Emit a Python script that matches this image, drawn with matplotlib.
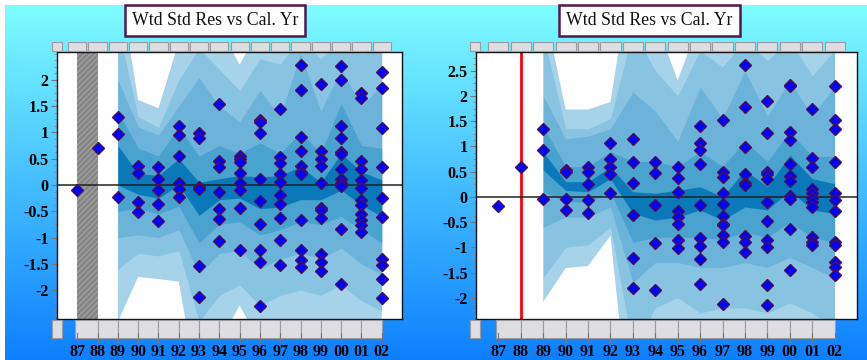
import numpy as np
import matplotlib
matplotlib.use('Agg')
import matplotlib.pyplot as plt
from matplotlib.patches import Rectangle

# ---------------- data ----------------
years = ['87', '88', '89', '90', '91', '92', '93', '94', '95', '96', '97', '98', '99', '00', '01', '02']

left_points = {
    '87': [-0.10],
    '88': [0.70],
    '89': [1.30, 0.97, -0.22],
    '90': [0.36, 0.22, -0.33, -0.52],
    '91': [0.34, 0.11, -0.10, -0.36, -0.68],
    '92': [1.12, 0.95, 0.55, 0.04, -0.08, -0.23],
    '93': [0.99, 0.90, -0.03, -0.07, -1.54, -2.13],
    '94': [1.54, 0.46, 0.34, -0.13, -0.46, -0.65, -1.07],
    '95': [0.55, 0.49, 0.44, 0.23, 0.04, -0.09, -0.43, -1.23],
    '96': [1.23, 1.19, 0.98, 0.11, -0.31, -0.74, -1.23, -1.47, -2.30],
    '97': [1.45, 0.53, 0.41, 0.21, 0.06, -0.20, -0.36, -0.62, -1.04, -1.52],
    '98': [2.29, 1.80, 0.92, 0.65, 0.37, 0.24, 0.20, -0.67, -1.23, -1.42, -1.56],
    '99': [1.92, 0.65, 0.49, 0.37, 0.03, -0.44, -0.48, -0.62, -1.31, -1.47, -1.64],
    '00': [2.27, 1.99, 1.12, 0.90, 0.63, 0.59, 0.30, 0.11, 0.03, -0.01, -0.84, -1.89],
    '01': [1.75, 1.66, 0.46, 0.30, 0.10, -0.06, -0.28, -0.39, -0.55, -0.67, -0.77, -0.90],
    '02': [2.15, 1.84, 1.09, 0.35, -0.25, -0.61, -1.41, -1.53, -1.79, -2.15],
}

right_points = {
    '87': [-0.18],
    '88': [0.59],
    '89': [1.34, 0.92, -0.04],
    '90': [0.53, 0.49, -0.05, -0.26],
    '91': [0.59, 0.49, 0.26, -0.07, -0.32],
    '92': [1.06, 0.75, 0.59, 0.46, 0.08],
    '93': [1.14, 0.70, 0.28, -0.36, -1.22, -1.80],
    '94': [0.70, 0.48, -0.17, -0.92, -1.84],
    '95': [0.59, 0.37, 0.10, -0.28, -0.40, -0.53, -0.86, -1.01],
    '96': [1.41, 1.07, 0.92, 0.66, -0.17, -0.81, -0.98, -1.23, -1.72],
    '97': [1.52, 0.50, 0.40, 0.08, -0.15, -0.38, -0.53, -0.56, -0.75, -0.89, -2.13],
    '98': [2.61, 1.78, 0.99, 0.46, 0.28, 0.23, -0.77, -0.89, -1.10],
    '99': [1.90, 1.27, 0.50, 0.45, 0.36, -0.10, -0.48, -0.85, -1.00, -1.74, -2.15],
    '00': [2.22, 2.19, 1.29, 1.12, 0.65, 0.41, 0.32, 0.02, -0.05, -0.63, -1.45],
    '01': [1.74, 0.77, 0.59, 0.15, 0.08, -0.03, -0.10, -0.20, -0.79, -0.89, -0.96],
    '02': [2.19, 1.53, 1.34, 0.69, 0.07, -0.07, -0.28, -0.89, -0.96, -1.29, -1.39, -1.55],
}

# band boundaries (outer -> inner), years 89..02
left_b1_hi = [4.0, 1.62, 1.46, 2.72, 3.5, 3.0, 2.29, 3.0, 2.9, 3.5, 3.0, 3.5, 3.0, 3.5]
left_b1_lo = [-2.6, -1.75, -1.79, -1.84, -4.0, -3.0, -2.29, -3.0, -3.0, -3.0, -3.0, -3.0, -3.0, -3.0]
left_b2_hi = [3.0, 1.3, 1.1, 2.0, 2.6, 2.2, 1.8, 2.4, 2.3, 2.8, 2.4, 2.8, 2.5, 2.6]
left_b2_lo = [-1.6, -1.3, -1.35, -1.25, -2.6, -2.1, -1.9, -2.3, -2.1, -2.0, -2.1, -1.9, -2.2, -2.4]
left_b3_hi = [2.0, 1.1, 0.95, 1.5, 2.04, 1.5, 1.2, 1.8, 1.3, 2.5, 1.4, 2.2, 1.5, 1.9]
left_b3_lo = [-1.0, -0.95, -1.0, -0.85, -1.7, -1.3, -1.25, -1.6, -1.4, -1.3, -1.4, -1.2, -1.5, -1.7]
left_b4_hi = [1.4, 0.7, 0.55, 1.1, 0.55, 0.75, 0.6, 0.8, 0.6, 1.0, 0.6, 1.55, 0.75, 0.7]
left_b4_lo = [-0.5, -0.45, -0.55, -0.4, -1.1, -0.75, -0.7, -0.95, -0.85, -0.7, -0.75, -0.6, -0.85, -1.1]
left_b5_hi = [0.75, 0.22, 0.18, 0.5, 0.05, 0.12, 0.18, 0.15, 0.18, 0.35, 0.05, 0.6, 0.25, 0.1]
left_b5_lo = [0.0, -0.18, -0.25, 0.0, -0.58, -0.28, -0.25, -0.45, -0.42, -0.28, -0.28, -0.1, -0.38, -0.6]

right_b1_hi = [3.83, 1.73, 1.73, 1.88, 4.7, 3.5, 2.31, 3.5, 3.5, 3.5, 3.5, 3.5, 3.5, 3.5]
right_b1_lo = [-2.08, -1.41, -1.37, -0.77, -5.0, -3.5, -3.5, -3.5, -3.5, -3.5, -3.5, -3.5, -3.5, -3.5]
right_b2_hi = [3.2, 1.35, 1.35, 1.55, 3.3, 2.5, 2.0, 2.9, 2.57, 3.1, 2.7, 3.1, 2.4, 2.9]
right_b2_lo = [-1.6, -1.0, -0.95, -0.6, -3.0, -2.2, -2.0, -2.3, -2.2, -2.2, -2.3, -2.1, -2.3, -2.6]
right_b3_hi = [2.0, 1.15, 1.2, 1.35, 2.08, 1.7, 1.1, 2.18, 1.55, 2.5, 1.6, 2.3, 1.6, 2.2]
right_b3_lo = [-0.6, -0.4, -0.4, -0.2, -1.7, -1.3, -1.3, -1.4, -1.4, -1.3, -1.4, -1.2, -1.4, -1.6]
right_b4_hi = [1.4, 0.6, 0.6, 0.9, 0.7, 0.7, 0.6, 0.9, 0.6, 1.1, 0.7, 1.3, 0.8, 0.8]
right_b4_lo = [0.1, -0.1, -0.1, 0.1, -0.9, -0.8, -0.8, -0.8, -0.85, -0.7, -0.8, -0.5, -0.8, -0.9]
right_b5_hi = [0.89, 0.30, 0.30, 0.59, 0.10, 0.07, 0.13, 0.20, 0.0, 0.53, 0.20, 0.83, 0.36, 0.26]
right_b5_lo = [0.53, 0.13, 0.10, 0.36, -0.33, -0.46, -0.40, -0.26, -0.46, -0.20, -0.26, 0.13, -0.26, -0.33]

yticks_left = [-2, -1.5, -1, -0.5, 0, 0.5, 1, 1.5, 2]
yticks_right = [-2, -1.5, -1, -0.5, 0, 0.5, 1, 1.5, 2, 2.5]
title = 'Wtd Std Res vs Cal. Yr'

# ---------------- style ----------------
W, H = 867, 360
SERIF = ['Liberation Serif', 'DejaVu Serif']
band_colors = ['#a6d3ea', '#88c3e1', '#6cb3d9', '#4aa2cf', '#0a79ba']

fig = plt.figure(figsize=(W / 100, H / 100), dpi=100)

# gradient background
bg = fig.add_axes([0, 0, 1, 1], zorder=-10)
t = np.linspace(0, 1, 360)[:, None, None]
top = np.array([0.50, 1.00, 1.00])
bot = np.array([0.05, 0.50, 1.00])
img = top + (bot - top) * t
img = np.repeat(img, 2, axis=1)
bg.imshow(img, aspect='auto', extent=[0, 1, 0, 1], origin='upper')
bg.set_xlim(0, 1)
bg.set_ylim(0, 1)
bg.axis('off')
bg.add_patch(Rectangle((0, 1 - 5 / H), 1, 5 / H, color='white', lw=0))
bg.add_patch(Rectangle((0, 0), 5 / W, 1, color='white', lw=0))


def fig_rect(x0, y0, x1, y1, **kw):
    """rectangle given in pixel coordinates (y from top)"""
    fig.patches.append(Rectangle((x0 / W, 1 - y1 / H), (x1 - x0) / W, (y1 - y0) / H,
                                 transform=fig.transFigure, figure=fig, **kw))


def button(x0, y0, x1, y1):
    fig_rect(x0, y0, x1, y1, facecolor='#dddde2', edgecolor='#9a9aa0', lw=0.8, zorder=1)


def panel(px0, px1, points, bands, yticks, ylim, title_x0, title_x1, kind):
    py0, py1 = 52, 319
    ax = fig.add_axes([px0 / W, 1 - py1 / H, (px1 - px0) / W, (py1 - py0) / H])
    ax.set_facecolor('white')
    xs = np.arange(len(years))
    bx = np.arange(2, len(years))
    for (lo, hi), c in zip(bands, band_colors):
        ax.fill_between(bx, lo, hi, color=c, lw=0, zorder=1)
    if kind == 'left':
        ax.axvspan(0, 1, facecolor='#858585', edgecolor='#a0a0a0', hatch='//////', lw=0, zorder=2)
    else:
        ax.axvline(1, color='#ff0000', lw=2, zorder=2)
    ax.axhline(0, color='#202020', lw=1.1, zorder=3)
    for i, yr in enumerate(years):
        vals = points[yr]
        ax.plot([xs[i]] * len(vals), vals, ls='none', marker='D', ms=6.1,
                mfc='#0000ff', mec='#4a0f55', mew=1.0, zorder=4)
    ax.set_xticks([])
    ax.set_yticks(yticks)
    ax.set_yticklabels([('%g' % v) for v in yticks], fontfamily=SERIF, fontweight='bold', fontsize=11.5)
    ax.set_yticks(np.arange(-2.5, 3.01, 0.125), minor=True)
    ax.tick_params(axis='y', which='major', length=4, width=0.8, color='#777777', pad=2)
    ax.tick_params(axis='y', which='minor', length=2, width=0.6, color='#888888')
    ax.set_xlim(-1, 16)
    ax.set_ylim(*ylim)
    for s in ax.spines.values():
        s.set_color('#111111')
        s.set_linewidth(1.0)

    # buttons, top row (centred on years) and bottom row (between years)
    def xpix(v):
        return px0 + (v + 1) / 17 * (px1 - px0)
    step = (px1 - px0) / 17
    button(xpix(-1.25), 42, xpix(-1.25) + 10, 51)
    for i in range(len(years)):
        button(xpix(i) - step * 0.45, 42, xpix(i) + step * 0.45, 51)
    button(xpix(-1.25), 320, xpix(-1.25) + 10, 338)
    for i in range(len(years) - 1):
        button(xpix(i) - step * 0.1 if i == 0 else xpix(i), 320, xpix(i + 1), 338)
    # x tick marks and labels
    for i, yr in enumerate(years):
        fig.lines.append(plt.Line2D([xpix(i) / W] * 2, [1 - 333 / H, 1 - 342 / H],
                                    transform=fig.transFigure, color='#777777', lw=0.8))
        fig.text(xpix(i) / W, 1 - 352 / H, yr, ha='center', va='center', fontfamily=SERIF,
                 fontweight='bold', fontsize=11.5)
    # title box
    fig.text((title_x0 + title_x1) / 2 / W, 1 - 20.5 / H, title, ha='center', va='center',
             fontfamily=SERIF, fontsize=12.8, color='#111111',
             bbox=dict(boxstyle='square,pad=0.4', facecolor='white', edgecolor='#501850', lw=1.8))
    return ax


panel(57, 402, left_points,
      [(left_b1_lo, left_b1_hi), (left_b2_lo, left_b2_hi), (left_b3_lo, left_b3_hi),
       (left_b4_lo, left_b4_hi), (left_b5_lo, left_b5_hi)],
      yticks_left, (-2.55, 2.53), 128, 302, 'left')
panel(476, 857, right_points,
      [(right_b1_lo, right_b1_hi), (right_b2_lo, right_b2_hi), (right_b3_lo, right_b3_hi),
       (right_b4_lo, right_b4_hi), (right_b5_lo, right_b5_hi)],
      yticks_right, (-2.42, 2.87), 554, 745, 'right')

fig.savefig('out.png', dpi=100)
